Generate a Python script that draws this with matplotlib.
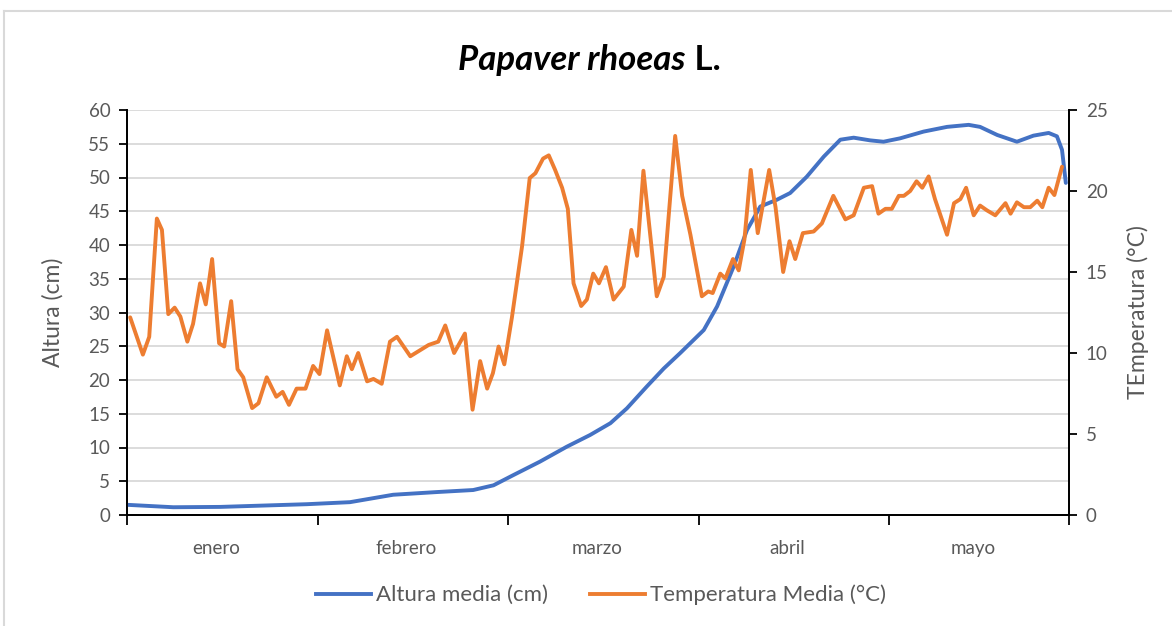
import matplotlib
matplotlib.use("Agg")
import matplotlib.pyplot as plt
from matplotlib.lines import Line2D

plt.rcParams['font.family'] = ['Lato', 'DejaVu Sans']

# ---------------- data ----------------
months = ["enero", "febrero", "marzo", "abril", "mayo"]
month_ticks = [0, 30, 60, 90, 120]
x_end = 148.3

# Altura media (cm), left axis
altura_x = [0.2, 7.3, 14.7, 21.5, 28.3, 35.1, 41.9, 48.8, 54.5, 57.7, 60.8,
            65.0, 69.2, 72.9, 76.1, 78.7, 81.8, 84.5, 87.1, 90.8, 92.9, 95.5,
            97.6, 99.7, 102.3, 104.4, 107.0, 109.7, 112.3, 114.4, 117.0, 119.1,
            121.7, 125.4, 129.1, 132.5, 134.3, 137.0, 140.1, 142.7, 145.1,
            146.4, 147.2, 147.8]
altura_y = [1.5, 1.15, 1.2, 1.4, 1.6, 1.9, 3.0, 3.4, 3.7, 4.4, 5.9,
            7.9, 10.1, 11.85, 13.6, 15.8, 19.0, 21.7, 24.0, 27.4, 30.9, 36.8,
            42.2, 45.7, 46.7, 47.7, 50.1, 53.1, 55.6, 55.9, 55.5, 55.3,
            55.8, 56.8, 57.5, 57.8, 57.5, 56.3, 55.3, 56.2, 56.6,
            56.1, 54.1, 49.2]

# Temperatura media (°C), right axis
temp_x = [0.5, 2.5, 3.5, 4.7, 5.5, 6.5, 7.5, 8.4, 9.5, 10.4, 11.5, 12.4, 13.4,
          14.5, 15.3, 16.4, 17.4, 18.3, 19.7, 20.7, 22.0, 23.5, 24.5, 25.5,
          26.7, 28.1, 29.3, 30.3, 31.5, 33.5, 34.6, 35.4, 36.4, 37.8, 38.8,
          40.1, 41.4, 42.5, 44.6, 47.5, 49.0, 50.1, 51.5, 53.2, 54.4, 55.6,
          56.7, 57.6, 58.5, 59.4, 60.6, 62.2, 63.4, 64.3, 65.5, 66.4, 67.4,
          68.5, 69.4, 70.3, 71.5, 72.4, 73.4, 74.3, 75.4, 76.6, 78.2, 79.4,
          80.3, 81.3, 83.4, 84.5, 86.3, 87.4, 88.7, 90.5, 91.5, 92.2, 93.4,
          94.2, 95.4, 96.3, 97.2, 98.2, 99.3, 101.1, 102.1, 103.3, 104.3,
          105.2, 106.4, 108.1, 109.4, 111.2, 113.1, 114.4, 116.0, 117.3,
          118.3, 119.4, 120.4, 121.5, 122.3, 123.3, 124.3, 125.2, 126.2,
          127.2, 129.1, 130.2, 131.2, 132.1, 133.3, 134.3, 135.4, 136.7,
          138.3, 139.1, 140.1, 141.2, 142.2, 143.3, 144.1, 145.1, 146.0, 147.2]
temp_y = [12.2, 9.9, 11.0, 18.3, 17.6, 12.4, 12.8, 12.25, 10.7, 11.8, 14.3, 13.0, 15.8,
          10.6, 10.4, 13.2, 9.0, 8.5, 6.6, 6.9, 8.5, 7.3, 7.6, 6.8,
          7.8, 7.8, 9.2, 8.7, 11.4, 8.0, 9.8, 9.0, 10.0, 8.25, 8.4,
          8.1, 10.7, 11.0, 9.8, 10.5, 10.7, 11.7, 10.0, 11.2, 6.5, 9.5,
          7.8, 8.75, 10.4, 9.3, 12.2, 16.6, 20.8, 21.1, 22.0, 22.2, 21.3,
          20.2, 18.9, 14.3, 12.9, 13.3, 14.9, 14.3, 15.3, 13.3, 14.1, 17.6,
          16.0, 21.25, 13.5, 14.7, 23.4, 19.7, 17.3, 13.5, 13.8, 13.7, 14.9,
          14.6, 15.8, 15.1, 17.0, 21.3, 17.4, 21.3, 19.0, 15.0, 16.9,
          15.8, 17.4, 17.5, 18.0, 19.7, 18.25, 18.5, 20.2, 20.3,
          18.6, 18.9, 18.9, 19.7, 19.7, 20.0, 20.6, 20.2, 20.9,
          19.5, 17.3, 19.25, 19.5, 20.2, 18.5, 19.1, 18.8, 18.5,
          19.25, 18.6, 19.3, 19.0, 19.0, 19.4, 19.0, 20.2, 19.75, 21.5]

left_ticks = list(range(0, 61, 5))
right_ticks = list(range(0, 26, 5))

BLUE = "#4472C4"
ORANGE = "#ED7D31"
GRAY = "#595959"
GRID = "#D9D9D9"

fig = plt.figure(figsize=(11.72, 6.26), dpi=100)
ax = fig.add_axes([127/1172, 1-515/626, (1069-127)/1172, (515-110)/626])
ax2 = ax.twinx()

ax.plot(altura_x, altura_y, color=BLUE, lw=2.8, solid_joinstyle='round',
        solid_capstyle='round', zorder=3)
ax2.plot(temp_x, temp_y, color=ORANGE, lw=2.8, solid_joinstyle='round',
         solid_capstyle='round', zorder=3)

ax.set_xlim(0, x_end)
ax.set_ylim(0, 60)
ax2.set_ylim(0, 25)
ax.set_yticks(left_ticks)
ax2.set_yticks(right_ticks)
ax.yaxis.grid(True, color=GRID, lw=1.3)
ax.set_axisbelow(True)

ax.set_xticks(month_ticks + [x_end])
ax.set_xticklabels([])
mids = [(a + b) / 2 - 1 for a, b in zip(month_ticks, month_ticks[1:] + [x_end])]
ax.set_xticks(mids, minor=True)
ax.set_xticklabels(months, minor=True, fontsize=13.5, color=GRAY)
ax.tick_params(axis='x', which='minor', length=0, pad=18)
ax.tick_params(axis='x', which='major', length=7, width=1.3, color='black', direction='out')

ax.tick_params(axis='y', length=6, width=1.3, color='black', labelsize=13.5, labelcolor=GRAY, pad=6)
ax2.tick_params(axis='y', length=6, width=1.3, color='black', labelsize=13.5, labelcolor=GRAY, pad=6)

for a in (ax, ax2):
    a.spines['top'].set_visible(False)
    for s in ('left', 'right', 'bottom'):
        a.spines[s].set_linewidth(1.3)
        a.spines[s].set_color('black')

ax.set_ylabel("Altura (cm)", fontsize=16.5, color=GRAY, labelpad=18)
ax2.set_ylabel("TEmperatura (°C)", fontsize=16.5, color=GRAY, labelpad=14)

# title
t1 = fig.text(458/1172, 1-70/626, "Papaver rhoeas", fontsize=25, fontweight='bold',
              style='italic', va='baseline', ha='left', color='black')
ax.annotate(" L.", xy=(1, 0), xycoords=t1, va='bottom', ha='left', fontsize=25,
            fontweight='bold', color='black', annotation_clip=False)

# legend
handles = [Line2D([], [], color=BLUE, lw=2.8), Line2D([], [], color=ORANGE, lw=2.8)]
fig.legend(handles, ["Altura media (cm)", "Temperatura Media (°C)"], loc='center',
           bbox_to_anchor=(0.513, 1-595/626), ncol=2, frameon=False, fontsize=16,
           handlelength=2.45, columnspacing=1.9, handletextpad=0.25, labelcolor=GRAY)

# chart area border
fig.add_artist(Line2D([4/1172, 1], [1-11/626, 1-11/626], color=GRID, lw=1.5,
                      transform=fig.transFigure))
fig.add_artist(Line2D([4/1172, 4/1172], [0, 1-11/626], color=GRID, lw=1.5,
                      transform=fig.transFigure))

fig.savefig("out.png", dpi=100)
